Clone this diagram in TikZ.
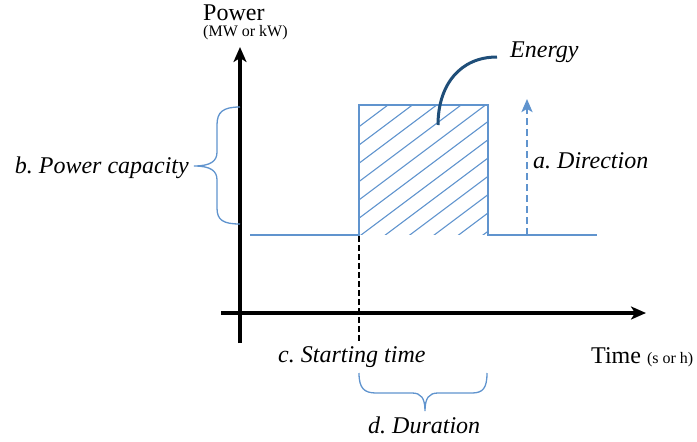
\documentclass[tikz,border=0pt]{standalone}
\usepackage{fontspec}
\setmainfont{Liberation Serif}
\frenchspacing
\usetikzlibrary{arrows.meta}
\definecolor{sigblue}{RGB}{96,148,206}
\definecolor{darkblue}{RGB}{31,78,121}
\tikzset{
  axisline/.style={line width=3.2pt, -{Stealth[length=15pt,width=13pt,inset=4pt]}},
  sig/.style={draw=sigblue, line width=2.4pt, line join=miter},
  hatchline/.style={draw=sigblue, line width=1.1pt},
  bracepath/.style={draw=sigblue, line width=1.3pt},
  energyline/.style={draw=darkblue, line width=3pt},
  dirarrow/.style={draw=sigblue, line width=2.4pt, dash pattern=on 7pt off 4pt, -{Stealth[length=13pt,width=11pt,inset=3pt,sep=0pt]}},
  startline/.style={draw=black, line width=2pt, dash pattern=on 6pt off 3pt},
  lbl/.style={inner sep=0pt, font=\fontsize{24}{28}\selectfont\itshape},
  axlbl/.style={inner sep=0pt, font=\fontsize{24}{28}\selectfont},
  unitlbl/.style={inner sep=0pt, font=\fontsize{16}{19}\selectfont},
}
\begin{document}
\begin{tikzpicture}[x=1pt,y=-1pt]
\useasboundingbox (0,0) rectangle (697,442);
% labels
\node[axlbl, anchor=base west] (power) at (203,20) {Power};
\node[unitlbl, anchor=base west] (unit) at (203,36) {(MW or kW)};
\node[axlbl, anchor=base west] (time) at (591,363) {Time \fontsize{16}{19}\selectfont(s or h)};
\node[lbl, anchor=base west] (energy) at (510,57) {Energy};
\node[lbl, anchor=base west] (direction) at (533,168) {a.\ Direction};
\node[lbl, anchor=base east] (capacity) at (189,173) {b.\ Power capacity};
\node[lbl, anchor=base west] (start) at (278,362) {c.\ Starting time};
\node[lbl, anchor=base west] (duration) at (368,433) {d.\ Duration};
% hatching
\begin{scope}
\clip (359,105) rectangle (488,234);
\foreach \k in {0,...,11} \draw[hatchline] (359,{126.7+18.3*\k}) -- ++(140,-105);
\end{scope}
% signal
\draw[sig] (250,235) -- (359,235) -- (359,105) -- (488,105) -- (488,235) -- (597,235);
% start time dashed
\draw[startline] (359,236) -- (359,343);
% axes
\draw[axisline] (240,343) -- (240,47);
\draw[axisline] (221,313) -- (646,313);
% energy pointer
\coordinate (e0) at (438,125);
\coordinate (e1) at (497,57);
\draw[energyline] (e0) .. controls (438,85) and (460,57) .. (e1);
% direction arrow
\coordinate (d0) at (527,235);
\coordinate (d1) at (527,99);
\draw[dirarrow] (d0) -- (d1);
% left brace
\draw[bracepath] (240,107) .. controls (223,107) and (217,112) .. (217,125) -- (217,152)
  .. controls (217,161) and (211,166) .. (194,166)
  .. controls (211,166) and (217,171) .. (217,180) -- (217,208)
  .. controls (217,220) and (223,224) .. (240,224);
% bottom brace
\draw[bracepath] (359,373) .. controls (359,388) and (364,393) .. (376,393) -- (412,393)
  .. controls (421,393) and (425,398) .. (425,411)
  .. controls (425,398) and (429,393) .. (438,393) -- (472,393)
  .. controls (483,393) and (487,388) .. (487,373);
\end{tikzpicture}
\end{document}
